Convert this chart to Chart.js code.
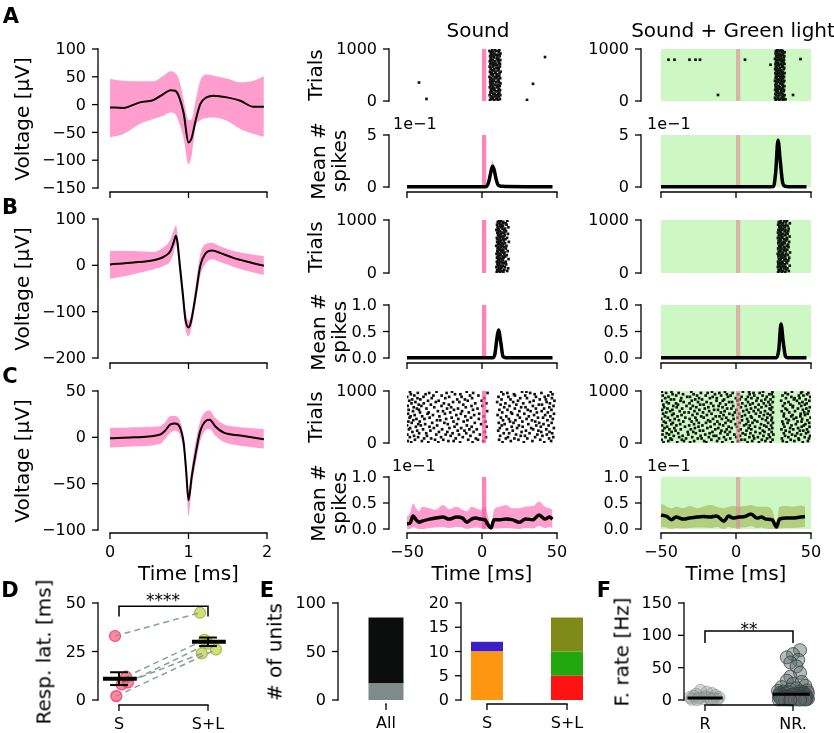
<!DOCTYPE html>
<html>
<head>
<meta charset="utf-8">
<script src="https://cdn.jsdelivr.net/npm/chart.js@4.4.1/dist/chart.umd.min.js"></script>
<style>
  body { margin: 0; background: #fff; }
  #fig { position: relative; width: 834px; height: 733px; overflow: hidden; font-family: "DejaVu Sans", sans-serif; }
  #fig canvas { position: absolute; left: 0; top: 0; }
  .t { position: absolute; white-space: nowrap; color: #000; line-height: 1.15; text-align: center; }
</style>
</head>
<body>
<div id="fig"></div>
<script>
// ---------- data ----------
// waveforms (time in ms, voltage in uV)
const waveTimeA = [0, 0.17, 0.38, 0.55, 0.68, 0.77, 0.83, 0.88, 0.94, 1.0, 1.04, 1.09, 1.15, 1.23, 1.32, 1.49, 1.66, 1.83, 1.96];
const waveMeanA = [-5, -6, 4, 8, 19, 26, 25, 14, -17, -68, -60, -29, 1, 13, 16, 13, 7, -4, -4];
const waveUpA   = [46, 43, 42, 42, 52, 60, 57, 45, 8, -28, -27, 7, 43, 54, 52, 47, 40, 43, 51];
const waveLowA  = [-59, -53, -35, -26, -20, -14, -17, -32, -62, -107, -92, -40, -28, -24, -23, -29, -44, -53, -58];

const waveTimeB = [0, 0.30, 0.55, 0.70, 0.77, 0.81, 0.84, 0.86, 0.89, 0.93, 0.96, 1.0, 1.03, 1.09, 1.15, 1.21, 1.30, 1.40, 1.57, 1.79, 1.96];
const waveMeanB = [2, 6, 11, 20, 31, 49, 64, 49, -1, -66, -116, -134, -123, -66, -1, 24, 32, 27, 16, 6, -1];
const waveUpB   = [31, 31, 29, 41, 56, 75, 86, 70, 20, -44, -94, -119, -109, -44, 24, 45, 49, 41, 31, 24, 20];
const waveLowB  = [-29, -19, -9, 0, 9, 27, 45, 27, -23, -87, -137, -153, -141, -84, -23, 2, 13, 7, -3, -14, -21];

const waveTimeC = [0, 0.30, 0.64, 0.70, 0.77, 0.83, 0.89, 0.94, 0.97, 1.0, 1.04, 1.09, 1.15, 1.21, 1.27, 1.34, 1.45, 1.66, 1.96];
const waveMeanC = [-1, 0, 3, 7, 14, 15, 11, -7, -36, -68, -43, -18, 7, 17, 19, 12, 5, 2, -2];
const waveUpC   = [10, 11, 12, 16, 23, 23, 18, 0, -25, -57, -32, -5, 18, 27, 29, 21, 14, 11, 9];
const waveLowC  = [-11, -10, -7, -2, 5, 7, 2, -16, -46, -85, -55, -29, -4, 7, 9, 2, -5, -9, -12];

// stimulus window (ms)
const stimWindow = [0, 3];

// rasters: each string is one block of trials, numbers are spike times (ms)
const rasterASoundBand = [
  "5.3 8.1 10.7", "6.6 9.4 11.9", "5.8 7.2 10.1", "6.9 8.8 11.3", "5.1 9.7 12.2",
  "7.4 8.5 10.9", "5.6 6.8 11.6", "6.2 9.1 10.4", "5.9 7.8 12.0", "6.4 8.3 11.1",
  "5.2 7.5 9.9", "7.0 10.3 11.8", "5.7 8.9 10.8", "6.1 7.3 12.3", "5.4 9.5 11.4",
  "6.8 8.0 10.6", "5.5 7.7 11.0", "6.3 9.2 12.1", "5.0 8.4 10.2", "7.2 9.8 11.5",
  "5.9 7.1 10.0", "6.5 8.7 11.7", "5.3 9.0 12.4", "6.7 7.6 10.5", "5.8 8.2 11.2",
  "6.0 9.6 10.9", "5.1 7.4 11.9", "7.1 8.6 10.3", "5.6 9.3 12.0", "6.4 7.9 11.4",
  "5.2 8.8 10.7", "6.9 7.0 12.2", "5.7 9.9 11.0", "6.2 8.1 10.1", "5.4 7.7 11.8",
  "6.6 9.4 10.6", "5.9 8.3 12.3", "6.1 7.2 11.3", "5.0 9.1 10.8", "6.8 8.5 11.6"
];
const rasterASoundExtra = [[-42, 355], [-37, 40], [30, 20], [34, 330], [42, 845]];

const rasterAGreenBand = [
  "26.4 28.9 31.2", "27.3 29.6 32.1", "26.0 28.2 30.5", "27.8 30.9 31.7", "26.7 29.0 32.4",
  "26.2 28.5 31.0", "27.5 29.9 30.3", "26.9 28.0 31.8", "26.1 30.2 32.0", "27.2 28.7 30.8",
  "26.5 29.3 31.4", "27.9 28.4 32.3", "26.3 30.6 31.1", "27.0 29.5 30.0", "26.8 28.1 31.6",
  "26.0 29.8 32.2", "27.6 28.6 30.7", "26.4 30.1 31.3", "27.1 29.2 32.0", "26.6 28.3 30.9",
  "27.4 29.7 31.5", "26.2 28.8 32.4", "27.7 30.4 31.0", "26.9 29.1 30.2", "26.1 28.0 31.9",
  "27.3 29.4 32.1", "26.5 30.8 31.2", "27.8 28.6 30.6", "26.3 29.9 32.3", "27.0 28.2 31.7",
  "26.7 30.3 31.0", "27.5 28.9 32.0", "26.0 29.6 30.4", "27.2 28.4 31.8", "26.8 30.0 32.2",
  "27.9 29.3 30.8", "26.4 28.7 31.4", "27.1 30.5 32.4", "26.6 29.0 31.1", "27.6 28.1 30.1"
];
const rasterAGreenExtra = [[-45, 794], [-41, 794], [-31, 794], [-27, 794], [-24, 794], [-12, 116],
  [6, 794], [23, 697], [38, 116], [43, 806], [33, 32]];

const rasterBSoundBand = [
  "9.8 12.1 14.3", "10.6 13.4 16.8", "10.1 11.7 14.9", "11.3 12.8 17.4", "9.6 13.0 15.2",
  "10.9 12.4 14.0", "10.3 11.2 16.1", "11.6 13.7 14.6", "9.9 12.6 15.8", "10.7 11.5 13.9",
  "11.1 13.2 17.7", "10.0 12.0 14.4", "10.5 13.8 15.5", "11.4 12.3 16.5", "9.7 11.9 14.7",
  "10.8 13.5 15.0", "10.2 12.7 17.1", "11.8 13.1 14.2", "10.4 11.4 15.9", "11.0 12.9 14.8",
  "9.5 13.3 16.3", "10.6 12.2 14.1", "11.2 13.6 15.3", "10.1 11.8 17.9", "11.5 12.5 14.5",
  "10.3 13.9 15.6", "9.9 12.0 16.7", "11.7 13.0 14.3", "10.7 11.6 15.1", "11.0 12.8 17.3",
  "10.2 13.4 14.9", "11.3 12.1 16.0", "9.6 11.3 14.6", "10.9 13.7 15.4", "10.4 12.6 17.6",
  "11.9 13.2 14.0", "10.0 12.4 16.4", "11.1 13.8 15.7", "10.5 11.9 14.2", "11.4 12.7 16.9"
];

const rasterBGreenBand = [
  "28.1 30.6 32.9", "29.0 31.3 35.2", "28.4 29.8 33.4", "29.7 31.9 34.3", "27.9 30.2 33.0",
  "28.8 31.5 35.8", "28.2 30.0 32.6", "29.4 31.1 34.0", "28.0 30.8 33.7", "29.2 32.3 34.9",
  "28.6 29.9 33.2", "29.9 31.6 35.5", "28.3 30.4 32.8", "29.1 32.0 34.6", "27.8 30.7 33.5",
  "28.9 31.2 36.0", "28.5 29.6 33.1", "29.6 31.8 34.2", "28.1 30.3 32.7", "29.3 32.2 35.0",
  "28.7 30.1 33.9", "29.8 31.4 34.7", "28.2 30.9 32.5", "29.0 31.7 35.4", "28.4 29.7 33.3",
  "29.5 32.1 34.1", "27.9 30.5 33.8", "28.8 31.0 35.7", "28.6 30.2 32.9", "29.7 31.5 34.4",
  "28.0 29.9 33.6", "29.2 32.4 34.8", "28.3 30.6 33.0", "29.4 31.2 35.1", "28.9 30.0 32.6",
  "29.6 31.9 34.5", "28.1 30.8 33.4", "29.1 31.3 35.9", "28.5 29.8 33.2", "29.9 32.2 34.0"
];

const rasterCSound = [
  "-47.2 -35.8 -29.1 -14.6 -6.3 13.7 27.9 41.5", "-49.5 -40.1 -22.4 -18.9 0.8 19.2 33.6 46.1",
  "-44.7 -31.3 -25.8 -9.2 -2.7 11.4 24.3 38.8", "-38.6 -33.9 -17.5 -4.1 15.9 21.6 30.2 44.7",
  "-48.1 -42.6 -27.3 -12.8 2.6 17.3 35.4 47.5", "-45.3 -36.7 -20.9 -7.7 12.1 25.8 28.6 40.3",
  "-49.8 -30.5 -24.2 -15.3 -1.4 22.7 36.9 43.2", "-41.9 -37.2 -19.6 -10.5 14.5 18.1 31.7 46.8",
  "-46.4 -28.7 -23.1 -5.6 1.9 26.4 39.5 45.0", "-43.2 -34.4 -16.2 -11.7 10.8 20.5 29.3 37.6",
  "-48.7 -39.3 -26.6 -8.4 -3.5 16.6 34.1 42.9", "-47.9 -32.1 -21.7 -13.9 11.9 23.4 32.8 47.9",
  "-44.1 -35.0 -18.3 -6.9 3.1 19.8 27.1 39.2", "-50.0 -40.8 -29.9 -10.1 13.2 24.6 36.2 44.4",
  "-42.5 -37.9 -22.8 -16.7 -0.6 15.1 30.9 41.0", "-46.9 -33.2 -25.1 -4.8 11.2 21.0 38.1 46.4",
  "-49.1 -41.5 -19.0 -12.2 2.2 18.7 26.9 35.5", "-45.8 -30.0 -27.8 -9.7 14.0 22.3 33.3 43.6",
  "-43.7 -38.4 -23.9 -15.8 -2.1 17.9 29.7 47.2", "-48.3 -34.9 -20.2 -7.3 12.6 25.2 37.3 40.7",
  "-47.6 -39.9 -28.4 -11.1 1.2 16.2 31.2 45.6", "-44.9 -32.7 -17.1 -5.2 10.4 23.8 34.7 42.1",
  "-49.3 -36.3 -24.7 -14.1 -1.9 20.1 28.2 48.0", "-41.3 -35.5 -21.2 -8.8 13.5 19.4 36.6 43.9",
  "-46.0 -29.4 -26.0 -13.3 3.4 24.9 32.4 39.8", "-48.9 -42.0 -18.7 -6.0 11.6 17.0 30.5 46.3",
  "-43.4 -37.0 -23.3 -16.0 -3.0 21.9 35.9 41.4", "-45.5 -31.8 -20.6 -10.8 14.8 26.1 29.0 44.9",
  "-49.6 -40.4 -27.0 -7.0 0.3 18.3 33.9 47.7", "-42.2 -34.1 -22.1 -12.5 12.4 22.9 37.9 40.0",
  "-47.0 -38.8 -25.4 -4.5 2.9 15.6 27.5 45.3", "-44.4 -30.8 -19.3 -15.1 10.1 20.8 31.9 43.1",
  "-48.5 -36.0 -28.9 -9.5 -0.2 24.0 34.4 48.3", "-46.6 -41.1 -16.5 -11.4 13.0 19.0 38.5 42.6",
  "-43.0 -33.5 -24.5 -6.6 1.5 25.5 30.0 46.6", "-49.9 -39.0 -21.9 -13.6 11.0 17.6 36.0 41.8",
  "-45.1 -32.4 -26.9 -8.0 -2.4 22.0 28.8 44.2", "-47.4 -37.6 -18.0 -14.4 14.2 21.3 35.1 47.0",
  "-42.8 -35.2 -23.6 -5.9 3.7 16.9 32.1 39.6", "-48.0 -30.3 -20.0 -10.2 12.9 26.7 29.6 45.8"
];

const rasterCGreen = [
  "-48.3 -39.2 -30.6 -19.8 -9.1 -2.4 7.7 15.3 23.1 33.8 44.5", "-45.1 -34.7 -27.9 -21.2 -12.6 1.3 10.8 19.6 31.2 38.9 47.9",
  "-49.6 -42.8 -36.1 -16.4 -6.7 3.6 5.9 17.2 24.4 36.5 42.0", "-43.7 -33.3 -25.5 -22.9 -11.3 -3.8 12.1 20.7 30.6 41.7 48.6",
  "-47.0 -37.9 -29.2 -18.1 -8.0 0.2 8.9 14.6 22.6 34.9 45.8", "-41.5 -35.6 -23.6 -14.9 -13.2 2.7 11.5 18.3 32.7 39.6 49.4",
  "-49.0 -44.6 -31.8 -20.5 -5.6 -1.1 6.3 21.8 24.9 37.4 43.3", "-46.2 -38.5 -26.8 -17.6 -10.4 4.5 9.6 16.0 31.9 40.8 46.7",
  "-42.9 -32.2 -28.5 -15.7 -7.3 -4.1 13.0 19.0 23.8 35.7 48.1", "-48.8 -40.3 -24.1 -21.9 -9.7 1.8 7.0 17.9 33.1 42.6 44.9",
  "-44.4 -36.8 -30.1 -13.8 -6.2 3.1 10.2 22.1 30.3 38.2 47.3", "-47.7 -41.1 -27.4 -19.1 -11.8 -2.9 8.4 15.9 24.2 36.1 41.4",
  "-45.9 -34.0 -25.0 -16.9 -4.9 0.7 12.7 20.3 32.3 43.8 49.0", "-49.3 -39.7 -31.2 -22.4 -8.6 5.4 9.2 18.8 23.4 37.0 45.2",
  "-43.1 -37.2 -28.0 -14.3 -10.9 -0.3 6.8 16.7 31.5 39.9 46.3", "-46.8 -42.1 -24.8 -20.0 -7.0 2.3 11.0 21.4 24.6 34.4 48.8",
  "-48.1 -35.1 -29.6 -17.2 -12.4 -3.4 8.1 14.2 30.9 41.0 43.7", "-44.0 -38.1 -26.2 -18.6 -5.2 4.0 12.4 19.9 23.6 35.2 47.6",
  "-49.8 -40.9 -30.9 -15.3 -9.4 -1.6 7.4 17.5 33.5 38.5 44.1", "-45.4 -33.8 -27.1 -21.5 -6.5 1.0 10.5 20.9 24.0 40.2 49.7",
  "-47.4 -39.0 -23.2 -13.5 -11.0 3.9 9.9 15.6 31.8 36.8 42.9", "-42.6 -36.3 -29.0 -19.4 -8.3 -2.1 6.0 18.6 22.9 37.7 46.0",
  "-48.6 -41.6 -25.8 -16.3 -4.4 2.0 13.3 21.1 32.0 43.1 47.8", "-46.5 -34.4 -31.5 -22.0 -10.1 -0.8 8.6 16.4 24.7 35.5 45.5",
  "-43.9 -37.5 -27.7 -17.9 -7.6 4.8 11.8 19.3 30.5 39.3 48.4", "-49.2 -42.4 -24.4 -14.6 -12.0 0.4 7.2 14.9 23.3 34.1 44.6",
  "-45.7 -35.9 -30.3 -20.8 -5.9 -3.1 10.0 22.4 33.0 41.3 46.9", "-47.9 -39.5 -26.5 -18.4 -9.0 3.3 12.9 17.0 24.1 37.8 49.2",
  "-41.8 -33.0 -28.8 -15.1 -11.6 -1.9 6.5 20.0 31.3 38.0 43.5", "-48.4 -38.7 -23.9 -21.6 -6.8 1.6 9.4 15.1 22.7 36.3 45.9",
  "-44.8 -40.0 -31.0 -16.7 -10.6 4.2 11.2 18.5 32.5 42.2 47.1", "-46.1 -34.9 -25.3 -19.6 -4.6 -2.6 8.0 21.6 24.5 35.0 44.3",
  "-49.5 -37.0 -29.5 -13.0 -8.8 0.9 13.6 16.9 30.1 40.6 48.9", "-43.4 -41.3 -27.2 -22.6 -7.9 2.5 6.6 19.5 23.0 38.6 46.5",
  "-47.2 -36.5 -24.6 -17.4 -12.8 -0.1 10.3 14.4 33.3 39.1 42.4", "-45.0 -32.6 -30.7 -15.5 -5.4 3.7 7.9 20.5 24.8 36.9 49.5",
  "-48.9 -39.9 -26.0 -20.2 -9.9 -3.6 12.2 17.7 31.0 41.9 45.0", "-42.3 -35.3 -28.3 -14.0 -6.1 1.4 9.1 22.2 23.9 34.6 47.4",
  "-46.6 -38.2 -23.4 -18.9 -11.1 -2.2 11.7 15.8 32.9 43.4 48.2", "-49.4 -43.0 -29.8 -16.0 -7.4 4.6 8.7 18.1 24.3 37.3 44.0"
];

// mean # spikes (PSTH), time in ms
const psthTimeASound = [-50, -30, -10, 0, 3, 4.5, 6, 7, 8, 9.5, 11, 13, 16, 30, 47];
const psthASound     = [0.003, 0.003, 0.003, 0.003, 0.005, 0.05, 0.15, 0.2, 0.17, 0.07, 0.015, 0.008, 0.004, 0.003, 0.003];
const psthASoundUp   = [0.005, 0.005, 0.005, 0.005, 0.008, 0.07, 0.19, 0.25, 0.21, 0.09, 0.02, 0.01, 0.006, 0.005, 0.005];
const psthASoundLow  = [0.001, 0.001, 0.001, 0.001, 0.002, 0.03, 0.11, 0.15, 0.13, 0.05, 0.01, 0.005, 0.002, 0.001, 0.001];

const psthTimeAGreen = [-50, -20, 0, 20, 25, 26.5, 28, 29.5, 31, 32.5, 35, 47];
const psthAGreen     = [0.003, 0.003, 0.003, 0.003, 0.005, 0.15, 0.45, 0.25, 0.05, 0.008, 0.003, 0.003];
const psthAGreenUp   = [0.005, 0.005, 0.005, 0.005, 0.008, 0.18, 0.48, 0.28, 0.07, 0.01, 0.005, 0.005];
const psthAGreenLow  = [0.001, 0.001, 0.001, 0.001, 0.002, 0.12, 0.42, 0.22, 0.03, 0.005, 0.001, 0.001];

const psthTimeBSound = [-50, -20, 0, 7, 8.5, 10, 11, 12.5, 14, 16, 30, 47];
const psthBSound     = [0.003, 0.003, 0.003, 0.005, 0.06, 0.38, 0.53, 0.3, 0.03, 0.005, 0.003, 0.003];
const psthBSoundUp   = [0.005, 0.005, 0.005, 0.008, 0.08, 0.41, 0.57, 0.33, 0.05, 0.008, 0.005, 0.005];
const psthBSoundLow  = [0.001, 0.001, 0.001, 0.002, 0.04, 0.35, 0.49, 0.27, 0.02, 0.002, 0.001, 0.001];

const psthTimeBGreen = [-50, -20, 0, 20, 27, 28.5, 30, 31.5, 33, 34.5, 40, 47];
const psthBGreen     = [0.003, 0.003, 0.003, 0.003, 0.005, 0.15, 0.64, 0.3, 0.03, 0.004, 0.003, 0.003];
const psthBGreenUp   = [0.005, 0.005, 0.005, 0.005, 0.008, 0.18, 0.67, 0.33, 0.05, 0.007, 0.005, 0.005];
const psthBGreenLow  = [0.001, 0.001, 0.001, 0.001, 0.002, 0.12, 0.61, 0.27, 0.02, 0.002, 0.001, 0.001];

const psthTimeCSound = [-50, -48, -46, -44, -42, -40, -35, -31, -26, -22, -17, -13, -10, -7, -4, -1, 2, 4, 6, 8, 12, 16, 20, 25, 29, 34, 38, 42, 45, 47];
const psthCSound     = [0.010, 0.011, 0.025, 0.018, 0.013, 0.015, 0.019, 0.021, 0.023, 0.019, 0.023, 0.021, 0.013, 0.019, 0.021, 0.019, 0.018, 0.008, 0.002, 0.018, 0.018, 0.019, 0.018, 0.013, 0.019, 0.018, 0.027, 0.019, 0.023, 0.019];
const psthCSoundUp   = [0.024, 0.030, 0.049, 0.040, 0.034, 0.043, 0.040, 0.037, 0.046, 0.038, 0.043, 0.037, 0.034, 0.043, 0.040, 0.037, 0.043, 0.025, 0.005, 0.037, 0.043, 0.046, 0.040, 0.040, 0.043, 0.044, 0.053, 0.043, 0.040, 0.037];
const psthCSoundLow  = [0, 0, 0.004, 0.002, 0, 0, 0.002, 0.003, 0.004, 0.002, 0.004, 0.003, 0, 0.002, 0.003, 0.002, 0.001, 0, 0, 0.001, 0.001, 0.002, 0.001, 0, 0.002, 0.001, 0.006, 0.002, 0.004, 0.002];

const psthTimeCGreen = [-50, -46, -43, -40, -35, -31, -26, -22, -17, -13, -8, -5, -2, 2, 6, 10, 14, 17, 20, 24, 27, 29, 34, 38, 43, 46];
const psthCGreen     = [0.027, 0.024, 0.018, 0.023, 0.019, 0.021, 0.023, 0.024, 0.023, 0.025, 0.015, 0.025, 0.021, 0.023, 0.024, 0.029, 0.021, 0.023, 0.019, 0.018, 0.004, 0.019, 0.021, 0.021, 0.023, 0.024];
const psthCGreenUp   = [0.049, 0.043, 0.040, 0.043, 0.040, 0.044, 0.040, 0.043, 0.046, 0.043, 0.040, 0.043, 0.044, 0.043, 0.044, 0.046, 0.043, 0.043, 0.043, 0.037, 0.011, 0.043, 0.044, 0.043, 0.045, 0.043];
const psthCGreenLow  = [0.004, 0.003, 0, 0.002, 0.001, 0.002, 0.003, 0.003, 0.002, 0.004, 0, 0.004, 0.002, 0.003, 0.003, 0.006, 0.002, 0.003, 0.001, 0, 0, 0.001, 0.002, 0.002, 0.003, 0.004];

// D: response latency (ms), paired S -> S+L
const dCategories = ['S', 'S+L'];
const dLatS   = [33, 2, 12, 9, 8];
const dLatSL  = [45, 26, 31, 29, 24];
const dJitS   = [-0.045, -0.03, 0.08, 0.1, 0.03];
const dJitSL  = [-0.09, 0.09, -0.04, 0, -0.07];
const dMean   = [11, 30];
const dSem    = [3.3, 2.2];
const dSignif = '****';

// E: number of units
const eAllLabels   = ['All'];
const eAllResp     = [17];
const eAllNonResp  = [68];
const eCondLabels  = ['S', 'S+L'];
const eSoundOnly   = [10, 0];
const eSoundBlue   = [2, 0];
const eLightRed    = [0, 5];
const eLightGreen  = [0, 5];
const eLightOlive  = [0, 7];

// F: firing rate (Hz)
const fCategories = ['R', 'NR.'];
const fRateR   = [15, 12, 10, 9, 7, 6, 5, 4, 4, 3, 3, 2, 2, 1, 1, 1, 0.5];
const fJitR    = [-0.05, 0.02, 0.08, -0.1, 0.12, -0.13, 0, 0.16, -0.17, 0.05, -0.07, 0.1, -0.02, 0.14, -0.15, 0.07, -0.09];
const fRateNR  = [77, 71, 66, 62, 58, 52, 42, 36, 30, 28, 25, 22, 20, 18,
  16, 15, 14, 13, 13, 12, 12, 11, 11, 10, 10, 10, 9, 9, 9, 8, 8, 8, 7, 7, 7, 6, 6, 6, 6,
  5, 5, 5, 5, 4, 4, 4, 4, 3, 3, 3, 3, 3, 2, 2, 2, 2, 2, 1, 1, 1, 1, 1, 0.5, 0.5, 0.5, 0.3, 0.2, 0.1];
const fJitNR   = [0.08, 0, -0.07, 0.06, -0.03, 0.04, 0.08, -0.03, -0.07, 0.1, 0, 0.14, -0.13, 0.04,
  -0.03, 0.16, -0.17, 0.08, -0.11, 0.12, -0.05, 0.17, -0.15, 0.02, -0.09, 0.13, -0.14, 0.06, 0.1,
  -0.01, -0.12, 0.15, 0.04, -0.16, 0.09, -0.06, 0.14, -0.1, 0.01, 0.11, -0.13, 0.07, -0.04, 0.16,
  -0.08, 0.03, -0.15, 0.12, -0.02, 0.09, -0.11, 0.05, 0.17, -0.07, 0.13, -0.14, 0, 0.1, -0.05,
  0.15, -0.12, 0.06, -0.09, 0.02, 0.14, -0.16, 0.08, -0.03];
const fMean    = [3, 9];
const fSignif  = '**';

// ---------- styling ----------
const W = 834, H = 733;
const FONT = '"DejaVu Sans", sans-serif';
const TICK = 6, PAD = 6;
const PINK = 'rgba(255,105,180,0.65)';
const STIM = 'rgba(255,90,160,0.75)';
const STIM_G = 'rgba(225,135,150,0.6)';
const GREEN_BG = '#cdf8c4';
const OLIVE_BAND = 'rgba(128,128,0,0.35)';
const DOT = '#111';

const fig = document.getElementById('fig');
const minus = v => String(v).replace('-', '\u2212');

// ---------- helpers ----------
const xy = (xs, ys) => xs.map((x, i) => ({ x, y: ys[i] }));
const pts = arr => arr.map(([x, y]) => ({ x, y }));
function rasterRows(rows) {
  const out = [];
  rows.forEach((r, i) => {
    const trial = (i + 0.5) * 1000 / rows.length;
    r.split(' ').forEach(t => out.push({ x: +t, y: trial }));
  });
  return out;
}
function lin(a) { return v => a[1] + (v - a[0]) * (a[3] - a[1]) / (a[2] - a[0]); }
// a = [v0, p0, v1, p1, min, max]
function frame(xa, ya) {
  const fx = lin(xa), fy = lin(ya);
  return { l: fx(xa[4]), r: fx(xa[5]), t: fy(ya[5]), b: fy(ya[4]), xmin: xa[4], xmax: xa[5], ymin: ya[4], ymax: ya[5] };
}

// matplotlib-like offset spines, drawn from the chart's own scales
function mplAxes(deco) {
  return {
    id: 'mplAxes',
    beforeDraw(chart) {
      if (!deco.bg) return;
      const a = chart.chartArea, c = chart.ctx;
      c.save(); c.fillStyle = deco.bg;
      c.fillRect(a.left, a.top, a.right - a.left, a.bottom - a.top);
      c.restore();
    },
    afterDraw(chart) {
      const c = chart.ctx;
      c.save();
      c.strokeStyle = '#000'; c.fillStyle = '#000'; c.lineWidth = 1.3;
      c.font = '16px ' + FONT;
      if (deco.y) {
        const s = chart.scales.y, X = deco.y.at;
        const p = deco.y.ticks.map(v => s.getPixelForValue(v));
        c.beginPath(); c.moveTo(X, Math.min(...p) - 0.65); c.lineTo(X, Math.max(...p) + 0.65); c.stroke();
        c.textAlign = 'right'; c.textBaseline = 'middle';
        p.forEach((py, i) => {
          c.beginPath(); c.moveTo(X - TICK, py); c.lineTo(X, py); c.stroke();
          if (deco.y.labels) c.fillText(deco.y.labels[i], X - TICK - PAD, py + 1);
        });
      }
      if (deco.x) {
        const s = chart.scales.x, Y = deco.x.at;
        const p = deco.x.ticks.map(v => s.getPixelForValue(v));
        c.beginPath(); c.moveTo(Math.min(...p) - 0.65, Y); c.lineTo(Math.max(...p) + 0.65, Y); c.stroke();
        c.textAlign = 'center'; c.textBaseline = 'middle';
        p.forEach((px, i) => {
          c.beginPath(); c.moveTo(px, Y); c.lineTo(px, Y + TICK); c.stroke();
          if (deco.x.labels) c.fillText(deco.x.labels[i], px, Y + 20);
        });
      }
      c.restore();
    }
  };
}

function makeChart(box, type, datasets, deco, extra) {
  const cv = document.createElement('canvas');
  cv.width = W; cv.height = H;
  cv.style.width = W + 'px'; cv.style.height = H + 'px';
  fig.appendChild(cv);
  const scales = extra && extra.scales ? extra.scales : {
    x: { type: 'linear', display: false, min: box.xmin, max: box.xmax },
    y: { type: 'linear', display: false, min: box.ymin, max: box.ymax }
  };
  return new Chart(cv, {
    type,
    data: { labels: extra && extra.labels, datasets },
    options: {
      responsive: false, animation: false, events: [], devicePixelRatio: 1,
      layout: { padding: { left: box.l, top: box.t, right: W - box.r, bottom: H - box.b } },
      plugins: { legend: { display: false }, tooltip: { enabled: false } },
      elements: { point: { radius: 0 } },
      datasets: extra && extra.datasets,
      scales
    },
    plugins: [mplAxes(deco)]
  });
}

const lineDs = (data, color, width, more) => Object.assign({
  data, borderColor: color, borderWidth: width, pointRadius: 0, fill: false,
  cubicInterpolationMode: 'monotone', clip: false, order: 0
}, more);
const bandDs = (up, low, color) => [
  { data: up, borderColor: 'transparent', borderWidth: 0, pointRadius: 0, fill: '+1', backgroundColor: color, cubicInterpolationMode: 'monotone', order: 3 },
  { data: low, borderColor: 'transparent', borderWidth: 0, pointRadius: 0, fill: false, cubicInterpolationMode: 'monotone', order: 3 }
];
const stimDs = (ymax, color) => ({
  data: [{ x: stimWindow[0], y: ymax }, { x: stimWindow[1], y: ymax }],
  borderColor: 'transparent', borderWidth: 0, pointRadius: 0, fill: 'origin', backgroundColor: color, order: 1
});
const dotsDs = (data, color, r, more) => Object.assign({
  data, showLine: false, pointRadius: r, pointStyle: 'rect',
  pointBackgroundColor: color, pointBorderColor: 'transparent', pointBorderWidth: 0, order: 2
}, more);

// ---------- A/B/C rows ----------
const rows = [
  { wt: waveTimeA, wm: waveMeanA, wu: waveUpA, wl: waveLowA, wy: [100, 49, -150, 188, -150, 100], wticks: [100, 50, 0, -50, -100, -150],
    ry: [0, 101, 1000, 49], py: [0, 187, 0.5, 135, 0, 0.5], pticks: [0, 0.5], plabels: ['0', '5'], xs: 192, showX: false,
    sBand: rasterASoundBand, sExtra: rasterASoundExtra, gBand: rasterAGreenBand, gExtra: rasterAGreenExtra,
    ps: [psthTimeASound, psthASound, psthASoundUp, psthASoundLow], pg: [psthTimeAGreen, psthAGreen, psthAGreenUp, psthAGreenLow] },
  { wt: waveTimeB, wm: waveMeanB, wu: waveUpB, wl: waveLowB, wy: [100, 219, -200, 358, -200, 100], wticks: [100, 0, -100, -200],
    ry: [0, 273, 1000, 220], py: [0, 358, 1, 305, 0, 1], pticks: [0, 0.5, 1], plabels: ['0.0', '0.5', '1.0'], xs: 363, showX: false,
    sBand: rasterBSoundBand, sExtra: [], gBand: rasterBGreenBand, gExtra: [],
    ps: [psthTimeBSound, psthBSound, psthBSoundUp, psthBSoundLow], pg: [psthTimeBGreen, psthBGreen, psthBGreenUp, psthBGreenLow] },
  { wt: waveTimeC, wm: waveMeanC, wu: waveUpC, wl: waveLowC, wy: [50, 391, -100, 530, -100, 50], wticks: [50, 0, -50, -100],
    ry: [0, 443, 1000, 391], py: [0, 529, 0.1, 477, 0, 0.1], pticks: [0, 0.05, 0.1], plabels: ['0.0', '0.5', '1.0'], xs: 533, showX: true,
    sAll: rasterCSound, gAll: rasterCGreen,
    ps: [psthTimeCSound, psthCSound, psthCSoundUp, psthCSoundLow], pg: [psthTimeCGreen, psthCGreen, psthCGreenUp, psthCGreenLow] }
];

rows.forEach(r => {
  // waveform
  const wb = frame([0, 110, 2, 267, -0.1, 2.1], r.wy);
  makeChart(wb, 'line', [
    lineDs(xy(r.wt, r.wm), '#000', 2),
    ...bandDs(xy(r.wt, r.wu), xy(r.wt, r.wl), PINK)
  ], {
    y: { at: 98, ticks: r.wticks, labels: r.wticks.map(minus) },
    x: { at: r.xs, ticks: [0, 1, 2], labels: r.showX ? ['0', '1', '2'] : null }
  });

  // rasters
  const soundPts = r.sAll ? rasterRows(r.sAll) : rasterRows(r.sBand).concat(pts(r.sExtra));
  const greenPts = r.gAll ? rasterRows(r.gAll) : rasterRows(r.gBand).concat(pts(r.gExtra));
  const rs = frame([-50, 407, 50, 557, -50, 50], r.ry.concat([0, 1000]));
  makeChart(rs, 'line', [stimDs(1000, STIM), dotsDs(soundPts, DOT, 1.9)],
    { y: { at: 389, ticks: [0, 1000], labels: ['0', '1000'] } });
  const rg = frame([-50, 661, 50, 811, -50, 50], r.ry.concat([0, 1000]));
  makeChart(rg, 'line', [stimDs(1000, STIM_G), dotsDs(greenPts, '#0e160e', 1.9)],
    { bg: GREEN_BG, y: { at: 641, ticks: [0, 1000], labels: ['0', '1000'] } });

  // mean # spikes
  const xLabels = r.showX ? ['\u221250', '0', '50'] : null;
  const ps = frame([-50, 407, 50, 557, -50, 50], r.py);
  makeChart(ps, 'line', [
    lineDs(xy(r.ps[0], r.ps[1]), '#000', 3.5),
    stimDs(r.py[5], STIM),
    ...bandDs(xy(r.ps[0], r.ps[2]), xy(r.ps[0], r.ps[3]), PINK)
  ], { y: { at: 389, ticks: r.pticks, labels: r.plabels }, x: { at: r.xs, ticks: [-50, 0, 50], labels: xLabels } });
  const pg = frame([-50, 661, 50, 811, -50, 50], r.py);
  makeChart(pg, 'line', [
    lineDs(xy(r.pg[0], r.pg[1]), '#000', 3.5),
    stimDs(r.py[5], STIM_G),
    ...bandDs(xy(r.pg[0], r.pg[2]), xy(r.pg[0], r.pg[3]), OLIVE_BAND)
  ], { bg: GREEN_BG, y: { at: 641, ticks: r.pticks, labels: r.plabels }, x: { at: r.xs, ticks: [-50, 0, 50], labels: xLabels } });
});

// ---------- D ----------
function errBar(xc, m, s, color) {
  return [
    lineDs([{ x: xc - 0.18, y: m }, { x: xc + 0.2, y: m }], color, 4, { cubicInterpolationMode: 'default', order: -2 }),
    lineDs([{ x: xc, y: m - s }, { x: xc, y: m + s }], color, 2, { cubicInterpolationMode: 'default', order: -2 }),
    lineDs([{ x: xc - 0.1, y: m - s }, { x: xc + 0.1, y: m - s }], color, 2, { cubicInterpolationMode: 'default', order: -2 }),
    lineDs([{ x: xc - 0.1, y: m + s }, { x: xc + 0.1, y: m + s }], color, 2, { cubicInterpolationMode: 'default', order: -2 })
  ];
}
const db = frame([0, 119, 1, 208, -0.2, 1.3], [0, 700, 50, 603, -3, 52]);
const dPairs = dLatS.map((v, i) => lineDs([{ x: dJitS[i], y: v }, { x: 1 + dJitSL[i], y: dLatSL[i] }], '#8c9c99', 1.5,
  { borderDash: [6, 4], cubicInterpolationMode: 'default', order: -1 }));
makeChart(db, 'line', [
  ...errBar(0, dMean[0], dSem[0], '#000'),
  ...errBar(1, dMean[1], dSem[1], '#000'),
  ...dPairs,
  { data: xy(dJitS, dLatS), showLine: false, pointRadius: 5.5, pointBackgroundColor: 'rgba(255,35,75,0.55)', pointBorderColor: 'rgba(240,60,110,0.9)', pointBorderWidth: 1.2, order: 1 },
  { data: xy(dJitSL.map(j => 1 + j), dLatSL), showLine: false, pointRadius: 5.5, pointBackgroundColor: 'rgba(180,200,40,0.6)', pointBorderColor: 'rgba(160,180,40,0.85)', pointBorderWidth: 1.2, order: 1 },
  lineDs([{ x: 0, y: 43 }, { x: 0, y: 48.3 }, { x: 1, y: 48.3 }, { x: 1, y: 43 }], '#000', 1.5, { cubicInterpolationMode: 'default' })
], { y: { at: 98, ticks: [0, 25, 50], labels: ['0', '25', '50'] }, x: { at: 705, ticks: [0, 1], labels: dCategories } });

// ---------- E ----------
makeChart({ l: 351, r: 421, t: 603, b: 700 }, 'bar', [
  { data: eAllResp, backgroundColor: '#7f8b89' },
  { data: eAllNonResp, backgroundColor: '#0c0e0d' }
], { y: { at: 338, ticks: [0, 50, 100], labels: ['0', '50', '100'] }, x: { at: 704, ticks: [0], labels: eAllLabels } }, {
  labels: eAllLabels, datasets: { bar: { barPercentage: 1, categoryPercentage: 0.5, borderWidth: 0 } },
  scales: { x: { type: 'category', display: false, stacked: true }, y: { display: false, stacked: true, min: 0, max: 100 } }
});
makeChart({ l: 447, r: 607, t: 603, b: 700 }, 'bar', [
  { data: eSoundOnly, backgroundColor: '#ff9510' },
  { data: eSoundBlue, backgroundColor: '#3a1ec8' },
  { data: eLightRed, backgroundColor: '#ff1212' },
  { data: eLightGreen, backgroundColor: '#20a80e' },
  { data: eLightOlive, backgroundColor: '#808a18' }
], { y: { at: 461, ticks: [0, 5, 10, 15, 20], labels: ['0', '5', '10', '15', '20'] }, x: { at: 704, ticks: [0, 1], labels: eCondLabels } }, {
  labels: eCondLabels, datasets: { bar: { barPercentage: 0.8, categoryPercentage: 0.5, borderWidth: 0 } },
  scales: { x: { type: 'category', display: false, stacked: true }, y: { display: false, stacked: true, min: 0, max: 20 } }
});

// ---------- F ----------
const fb = frame([0, 705, 1, 793, -0.25, 1.25], [0, 700, 150, 603, -10, 155]);
makeChart(fb, 'line', [
  lineDs([{ x: -0.2, y: fMean[0] }, { x: 0.2, y: fMean[0] }], '#000', 3, { cubicInterpolationMode: 'default', order: -2 }),
  lineDs([{ x: 0.77, y: fMean[1] }, { x: 1.19, y: fMean[1] }], '#000', 3, { cubicInterpolationMode: 'default', order: -2 }),
  { data: xy(fJitR, fRateR), showLine: false, pointRadius: 6, pointBackgroundColor: 'rgba(150,160,158,0.4)', pointBorderColor: 'rgba(120,130,128,0.5)', pointBorderWidth: 1, order: 1 },
  { data: xy(fJitNR.map(j => 1 + j), fRateNR), showLine: false, pointRadius: 6.5, pointBackgroundColor: 'rgba(95,108,106,0.45)', pointBorderColor: 'rgba(50,60,58,0.75)', pointBorderWidth: 1, order: 1 },
  lineDs([{ x: 0, y: 88 }, { x: 0, y: 106.6 }, { x: 1, y: 106.6 }, { x: 1, y: 88 }], '#000', 1.5, { cubicInterpolationMode: 'default' })
], { y: { at: 684, ticks: [0, 50, 100, 150], labels: ['0', '50', '100', '150'] }, x: { at: 705, ticks: [0, 1], labels: fCategories } });

// ---------- free text ----------
const texts = [
  { t: 'A', x: 11, y: 16, s: 21, b: 1 }, { t: 'B', x: 10, y: 207, s: 21, b: 1 }, { t: 'C', x: 10, y: 376, s: 21, b: 1 },
  { t: 'D', x: 10, y: 590, s: 21, b: 1 }, { t: 'E', x: 267, y: 590, s: 21, b: 1 }, { t: 'F', x: 604, y: 590, s: 21, b: 1 },
  { t: 'Sound', x: 478, y: 30, s: 20 }, { t: 'Sound + Green light', x: 733, y: 30, s: 20 },
  { t: 'Voltage [µV]', x: 22, y: 118.5, s: 20, r: 1 }, { t: 'Voltage [µV]', x: 22, y: 288.5, s: 20, r: 1 }, { t: 'Voltage [µV]', x: 22, y: 460.5, s: 20, r: 1 },
  { t: 'Trials', x: 315, y: 75, s: 20, r: 1 }, { t: 'Trials', x: 315, y: 246.5, s: 20, r: 1 }, { t: 'Trials', x: 315, y: 417, s: 20, r: 1 },
  { t: 'Mean #<br>spikes', x: 329, y: 161, s: 20, r: 1, lh: 21 }, { t: 'Mean #<br>spikes', x: 329, y: 331.5, s: 20, r: 1, lh: 21 }, { t: 'Mean #<br>spikes', x: 329, y: 503, s: 20, r: 1, lh: 21 },
  { t: '1e\u22121', x: 393, y: 124, s: 16, left: 1 }, { t: '1e\u22121', x: 647, y: 124, s: 16, left: 1 },
  { t: '1e\u22121', x: 392, y: 466, s: 16, left: 1 }, { t: '1e\u22121', x: 647, y: 466, s: 16, left: 1 },
  { t: 'Time [ms]', x: 188.5, y: 573, s: 20 }, { t: 'Time [ms]', x: 482, y: 573, s: 20 }, { t: 'Time [ms]', x: 736, y: 573, s: 20 },
  { t: 'Resp. lat. [ms]', x: 44, y: 651.5, s: 20, r: 1 }, { t: '# of units', x: 275, y: 651.5, s: 20, r: 1 }, { t: 'F. rate [Hz]', x: 622, y: 651.5, s: 20, r: 1 },
  { t: dSignif, x: 163, y: 601, s: 17 }, { t: fSignif, x: 749, y: 630, s: 17 }
];
texts.forEach(o => {
  const d = document.createElement('div');
  d.className = 't';
  d.innerHTML = o.t;
  d.style.left = o.x + 'px';
  d.style.top = o.y + 'px';
  d.style.fontSize = o.s + 'px';
  if (o.b) d.style.fontWeight = 'bold';
  if (o.lh) d.style.lineHeight = o.lh + 'px';
  d.style.transform = o.left ? 'translate(0,-50%)' : 'translate(-50%,-50%)' + (o.r ? ' rotate(-90deg)' : '');
  fig.appendChild(d);
});
</script>
</body>
</html>
